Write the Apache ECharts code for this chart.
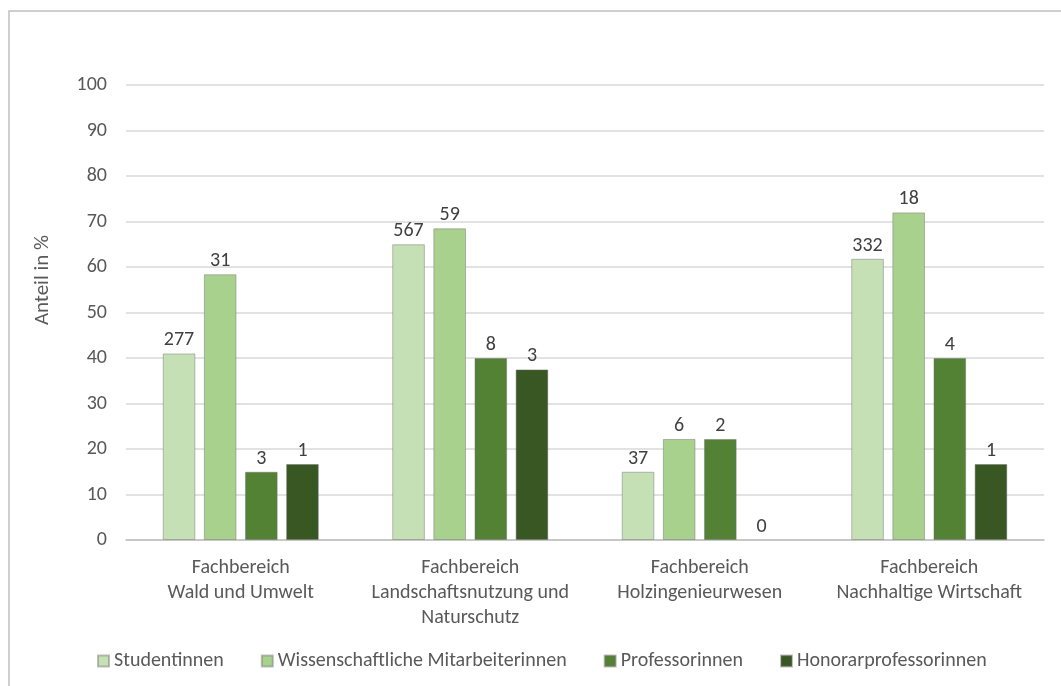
<!DOCTYPE html>
<html>
<head>
<meta charset="utf-8">
<script src="https://cdn.jsdelivr.net/npm/echarts@6/dist/echarts.min.js"></script>
<style>
html,body{margin:0;padding:0;background:#fff;}
#chart{width:1061px;height:686px;}
</style>
</head>
<body>
<div id="chart"></div>
<script>
const categories = [
  "Fachbereich\nWald und Umwelt",
  "Fachbereich\nLandschaftsnutzung und\nNaturschutz",
  "Fachbereich\nHolzingenieurwesen",
  "Fachbereich\nNachhaltige Wirtschaft"
];
const seriesNames = ["Studentinnen", "Wissenschaftliche Mitarbeiterinnen", "Professorinnen", "Honorarprofessorinnen"];
const pctStudentinnen = [41, 65, 15, 61.8];
const pctWissMa = [58.4, 68.5, 22.2, 72];
const pctProfessorinnen = [15, 40, 22.2, 40];
const pctHonorar = [16.7, 37.5, 0, 16.7];
const cntStudentinnen = [277, 567, 37, 332];
const cntWissMa = [31, 59, 6, 18];
const cntProfessorinnen = [3, 8, 2, 4];
const cntHonorar = [1, 3, 0, 1];
const yTicks = [0, 10, 20, 30, 40, 50, 60, 70, 80, 90, 100];

const colors = ["#c5e0b4", "#a9d18e", "#548235", "#385723"];
const FONT = "Carlito, Lato, 'Noto Sans', sans-serif";
const FS = 20;
const pcts = [pctStudentinnen, pctWissMa, pctProfessorinnen, pctHonorar];
const cnts = [cntStudentinnen, cntWissMa, cntProfessorinnen, cntHonorar];

const chart = echarts.init(document.getElementById('chart'));
const series = seriesNames.map((name, i) => ({
  name: name,
  type: 'bar',
  data: pcts[i].map(v => v > 0 ? v : { value: v, itemStyle: { borderWidth: 0 } }),
  barGap: '26%',
  barCategoryGap: '32%',
  itemStyle: { color: colors[i], borderColor: 'rgba(110,110,110,0.45)', borderWidth: 1 },
  label: {
    show: true,
    position: 'top',
    distance: 3,
    fontFamily: FONT,
    fontSize: FS,
    color: '#404040',
    formatter: p => String(cnts[i][p.dataIndex])
  }
}));

chart.setOption({
  animation: false,
  color: colors,
  grid: { left: 126, right: 17, top: 85, bottom: 146 },
  graphic: [
    { type: 'rect', shape: { x: 9, y: 11, width: 1100, height: 720 }, style: { fill: 'none', stroke: '#c0c0c0', lineWidth: 1.5 } },
    { type: 'text', x: 43, y: 280, rotation: Math.PI / 2, style: { text: 'Anteil in %', font: "21px " + FONT, fill: '#595959', textAlign: 'center', textVerticalAlign: 'middle' } }
  ],
  legend: {
    data: seriesNames,
    left: 97,
    top: 651,
    padding: 0,
    itemWidth: 11,
    itemHeight: 11,
    itemGap: 37,
    icon: 'rect',
    textStyle: { fontFamily: FONT, fontSize: FS, color: '#595959' }
  },
  xAxis: {
    type: 'category',
    data: categories,
    axisLine: { lineStyle: { color: '#bfbfbf', width: 1.5 } },
    axisTick: { show: false },
    axisLabel: { fontFamily: FONT, fontSize: FS, color: '#595959', lineHeight: 25, margin: 15, interval: 0 }
  },
  yAxis: {
    type: 'value',
    min: yTicks[0],
    max: yTicks[yTicks.length - 1],
    interval: 10,
    axisLine: { show: false },
    axisTick: { show: false },
    splitLine: { lineStyle: { color: '#d9d9d9', width: 1.5 } },
    axisLabel: { fontFamily: FONT, fontSize: FS, color: '#595959', margin: 19 }
  },
  series: series
});
</script>
</body>
</html>
